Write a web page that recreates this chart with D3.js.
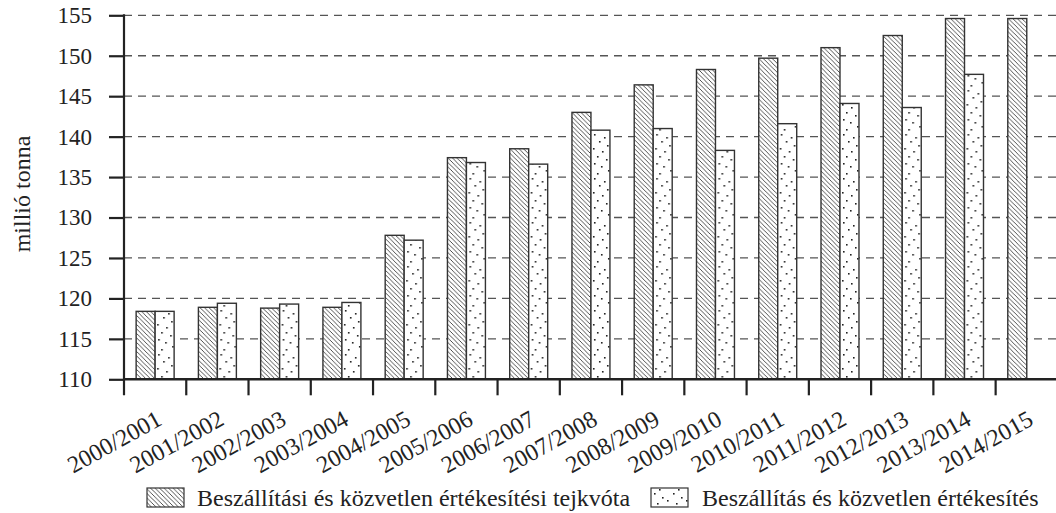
<!DOCTYPE html>
<html>
<head>
<meta charset="utf-8">
<script src="https://cdn.jsdelivr.net/npm/d3@7"></script>
<style>
  html, body { margin: 0; padding: 0; background: #fff; }
  svg { display: block; font-family: "Liberation Serif", "Times New Roman", serif; }
</style>
</head>
<body>
<svg id="chart" width="1056" height="513"></svg>
<script>
const categories = ["2000/2001","2001/2002","2002/2003","2003/2004","2004/2005","2005/2006","2006/2007","2007/2008","2008/2009","2009/2010","2010/2011","2011/2012","2012/2013","2013/2014","2014/2015"];
const seriesNames = ["Beszállítási és közvetlen értékesítési tejkvóta", "Beszállítás és közvetlen értékesítés"];
const quota = [118.4, 118.9, 118.8, 118.9, 127.8, 137.4, 138.5, 143.0, 146.4, 148.3, 149.7, 151.0, 152.5, 154.6, 154.6];
const delivered = [118.4, 119.4, 119.3, 119.5, 127.2, 136.8, 136.6, 140.8, 141.0, 138.3, 141.6, 144.1, 143.6, 147.7, null];
const yTicks = [110, 115, 120, 125, 130, 135, 140, 145, 150, 155];
const yTitle = "millió tonna";

const svg = d3.select("#chart");
const mLeft = 124, mTop = 15.3, mBottom = 379.3;
const step = 62.26;
const mRight = mLeft + step * categories.length;

const y = d3.scaleLinear().domain([110, 155]).range([mBottom, mTop]);
const x0 = d3.scaleBand().domain(categories).range([mLeft, mRight]).paddingInner(0.39).paddingOuter(0.195);
const x1 = d3.scaleBand().domain([0, 1]).range([0, x0.bandwidth()]);

// patterns
const defs = svg.append("defs");
const hatch = defs.append("pattern").attr("id", "hatch").attr("patternUnits", "userSpaceOnUse")
  .attr("width", 4.5).attr("height", 4.5);
hatch.append("rect").attr("width", 4.5).attr("height", 4.5).attr("fill", "#fff");
hatch.append("path").attr("d", "M-1,-1 L5.5,5.5 M-1,3.5 L1,5.5 M3.5,-1 L5.5,1")
  .attr("stroke", "#333").attr("stroke-width", 0.85);

const dots = defs.append("pattern").attr("id", "dots").attr("patternUnits", "userSpaceOnUse")
  .attr("width", 19).attr("height", 44);
dots.append("rect").attr("width", 19).attr("height", 44).attr("fill", "#fff");
const dotPts = [[3,2],[13,5],[8,9],[16,13],[2,16],[11,19],[6,24],[15,27],[3,31],[10,34],[17,38],[6,41]];
dots.selectAll("rect.d").data(dotPts).enter().append("rect").attr("class","d")
  .attr("x", d => d[0]).attr("y", d => d[1]).attr("width", 1.6).attr("height", 1.6).attr("fill", "#222");

// gridlines
svg.append("g").selectAll("line").data(yTicks.filter(t => t > 110)).enter().append("line")
  .attr("x1", mLeft).attr("x2", 1056).attr("y1", d => y(d)).attr("y2", d => y(d))
  .attr("stroke", "#555").attr("stroke-width", 1.3).attr("stroke-dasharray", "8,6");

// bars
const fills = ["url(#hatch)", "url(#dots)"];
const series = [quota, delivered];
const groups = svg.append("g").selectAll("g").data(categories).enter().append("g")
  .attr("transform", d => `translate(${x0(d)},0)`);
groups.selectAll("rect").data((c, i) => series.map((s, k) => ({k, v: s[i]})).filter(d => d.v != null))
  .enter().append("rect")
  .attr("x", d => x1(d.k)).attr("width", x1.bandwidth())
  .attr("y", d => y(d.v)).attr("height", d => y(110) - y(d.v))
  .attr("fill", d => fills[d.k]).attr("stroke", "#333").attr("stroke-width", 1.4);

// y axis
const yAxis = svg.append("g").attr("transform", `translate(${mLeft},0)`)
  .call(d3.axisLeft(y).tickValues(yTicks).tickSize(15).tickPadding(17).tickSizeOuter(0));
yAxis.select(".domain").remove();
yAxis.selectAll(".tick line").attr("stroke", "#222").attr("stroke-width", 2.2);
yAxis.selectAll("text").attr("font-size", 23).attr("fill", "#222").attr("font-family", "Liberation Serif");
svg.append("line").attr("x1", mLeft).attr("x2", mLeft).attr("y1", mTop - 1).attr("y2", mBottom + 16)
  .attr("stroke", "#222").attr("stroke-width", 2.2);

// x axis
svg.append("line").attr("x1", mLeft).attr("x2", 1056).attr("y1", mBottom).attr("y2", mBottom)
  .attr("stroke", "#222").attr("stroke-width", 2.4);
const xBound = d3.scaleLinear().domain([0, categories.length]).range([mLeft, mRight]);
svg.append("g").selectAll("line").data(d3.range(1, categories.length + 1)).enter().append("line")
  .attr("x1", d => xBound(d)).attr("x2", d => xBound(d)).attr("y1", mBottom).attr("y2", mBottom + 16)
  .attr("stroke", "#222").attr("stroke-width", 2.2);

svg.append("g").selectAll("text").data(categories).enter().append("text")
  .attr("transform", d => `translate(${x0(d) + x0.bandwidth() / 2 + 8},424) rotate(-29)`)
  .attr("text-anchor", "end").attr("font-size", 24).attr("fill", "#222")
  .text(d => d);

// y title
svg.append("text").attr("transform", "translate(30,194) rotate(-90)")
  .attr("text-anchor", "middle").attr("font-size", 24).attr("fill", "#222").text(yTitle);

// legend
const legendItems = [
  {name: seriesNames[0], fill: fills[0], bx: 147, tx: 197},
  {name: seriesNames[1], fill: fills[1], bx: 651, tx: 702}
];
const lg = svg.append("g");
lg.selectAll("rect").data(legendItems).enter().append("rect")
  .attr("x", d => d.bx).attr("y", 488).attr("width", 37).attr("height", 19)
  .attr("fill", d => d.fill).attr("stroke", "#333").attr("stroke-width", 1.2);
lg.selectAll("text").data(legendItems).enter().append("text")
  .attr("x", d => d.tx).attr("y", 506).attr("font-size", 24).attr("fill", "#222").text(d => d.name);
</script>
</body>
</html>
